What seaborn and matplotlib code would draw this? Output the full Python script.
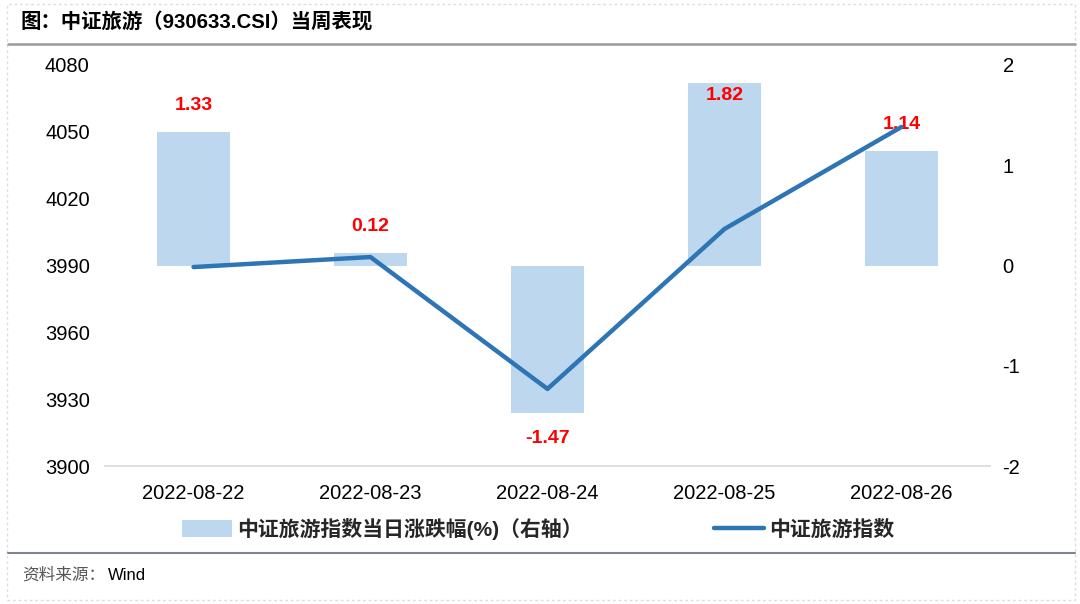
import numpy as np
import pandas as pd
import matplotlib
matplotlib.use("Agg")
import matplotlib.pyplot as plt
from matplotlib.lines import Line2D
from matplotlib.patches import Rectangle, Patch
import seaborn as sns

# ---- data ----
dates = ["2022-08-22", "2022-08-23", "2022-08-24", "2022-08-25", "2022-08-26"]
pct_change = [1.33, 0.12, -1.47, 1.82, 1.14]
index_close = [3989.3, 3993.8, 3934.6, 4006.4, 4052.2]
left_ticks = [3900, 3930, 3960, 3990, 4020, 4050, 4080]
right_ticks = [-2, -1, 0, 1, 2]

title = "图：中证旅游（930633.CSI）当周表现"
source = "资料来源："
bar_label = "中证旅游指数当日涨跌幅(%)（右轴）"
line_label = "中证旅游指数"

sns.set_theme(style="white")
plt.rcParams['font.family'] = ['Liberation Sans', 'Noto Sans CJK SC', 'DejaVu Sans']
plt.rcParams['axes.unicode_minus'] = False

BAR_C = "#BDD7EE"
LINE_C = "#2E75B6"

fig = plt.figure(figsize=(10.8, 6.04), dpi=100)
ax1 = fig.add_axes([105/1080, 1-466/604, (990-105)/1080, (466-65)/604])
ax2 = ax1.twinx()

df = pd.DataFrame({"date": dates, "pct": pct_change, "close": index_close})
df["pos"] = np.arange(len(dates))

sns.barplot(data=df, x="date", y="pct", ax=ax2, color=BAR_C, saturation=1,
            width=0.41, edgecolor="none")
sns.lineplot(data=df, x="pos", y="close", ax=ax1, color=LINE_C, linewidth=3.2,
             solid_capstyle="round")

ax1.set_zorder(ax2.get_zorder() + 1)
ax1.patch.set_visible(False)

ax1.set_xlim(-0.5, 4.5)
ax1.set_ylim(3900, 4080)
ax2.set_ylim(-2, 2)
ax1.set_yticks(left_ticks)
ax2.set_yticks(right_ticks)
ax1.set_xticks(df["pos"])
ax1.set_xticklabels(dates)
ax1.set_xticks(np.arange(-0.5, 5, 1), minor=True)
ax1.set_xlabel("")
ax1.set_ylabel("")
ax2.set_xlabel("")
ax2.set_ylabel("")

for ax in (ax1, ax2):
    for s in ("top", "left", "right", "bottom"):
        ax.spines[s].set_visible(False)
    ax.grid(False)
ax1.spines["bottom"].set_visible(True)
ax1.spines["bottom"].set_color("#D9D9D9")
ax1.spines["bottom"].set_linewidth(1.2)

ax1.tick_params(axis="x", which="major", length=0, labelsize=14.5, pad=13, colors="#000000")
ax1.tick_params(axis="x", which="minor", length=6, color="#D9D9D9", width=1.2, direction="out")
ax1.tick_params(axis="y", length=0, labelsize=14.5, pad=11, colors="#000000")
ax2.tick_params(axis="y", length=0, labelsize=14.5, pad=9, colors="#000000")
ax2.tick_params(axis="x", length=0, labelbottom=False)

ytop = ax2.get_ylim()[1]
for i, v in enumerate(pct_change):
    if v >= 0:
        ypos = min(v + 0.27, ytop - 0.30)
    else:
        ypos = v - 0.26
    ax2.text(i, ypos, f"{v:.2f}", ha="center", va="center", color="#FF0000",
             fontsize=14, fontweight="bold", zorder=10)

# legend
handles = [Patch(facecolor=BAR_C, edgecolor="none"),
           Line2D([0], [0], color=LINE_C, linewidth=3.2, solid_capstyle="round")]
leg = fig.legend(handles, [bar_label, line_label], loc="center",
                 bbox_to_anchor=(538/1080, 1-529/604), ncol=2, frameon=False,
                 prop={"weight": "bold", "size": 15}, columnspacing=6.3,
                 handlelength=2.4, handleheight=0.9, handletextpad=0.25)

# title, source, frame lines
fig.text(20/1080, 1-23/604, title, fontsize=14.7, fontweight="bold", va="center", ha="left",
         color="#000000")
fig.add_artist(Line2D([8/1080, 1075/1080], [1-44/604, 1-44/604], color="#9A9A9A", linewidth=1.8))
fig.add_artist(Line2D([8/1080, 1075/1080], [1-553/604, 1-553/604], color="#7F8593", linewidth=1.5))
fig.text(22/1080, 1-575/604, source, fontsize=12, va="center", ha="left", color="#555555")
fig.text(108/1080, 1-575/604, "Wind", fontsize=12, va="center", ha="left", color="#000000")
fig.add_artist(Rectangle((7/1080, 4/604), 1068/1080, 596/604, transform=fig.transFigure,
                         fill=False, edgecolor="#DDDDDD", linewidth=1, linestyle=(0, (2, 2))))

fig.savefig("out.png", dpi=100)
